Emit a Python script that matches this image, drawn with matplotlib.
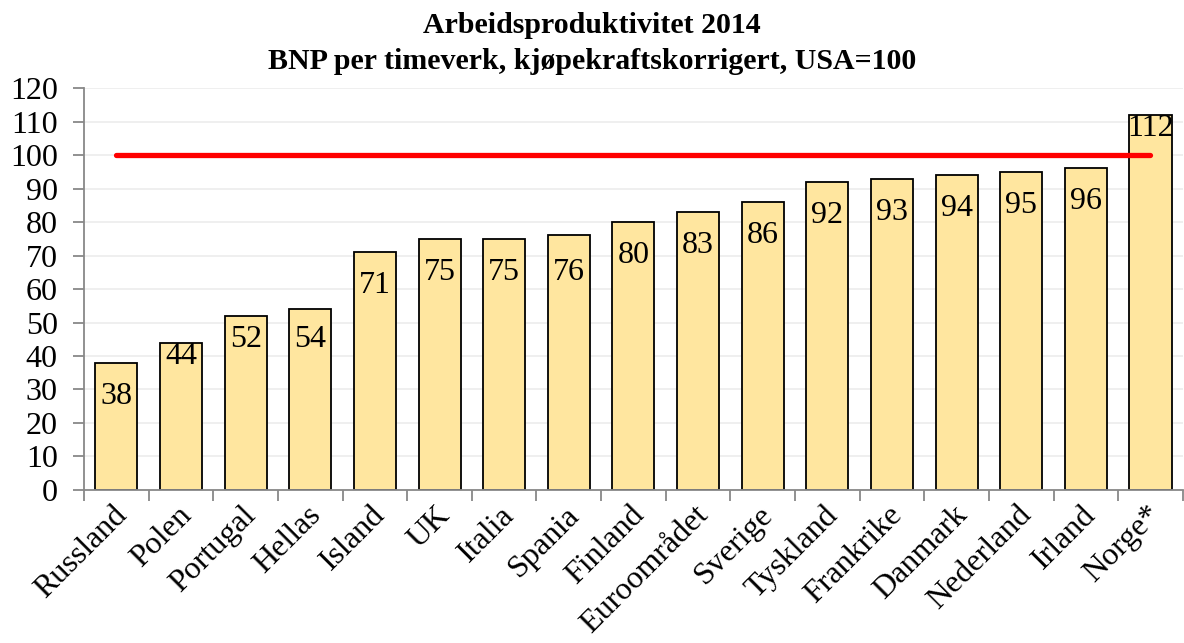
import numpy as np
import matplotlib.pyplot as plt
import matplotlib.transforms as mtransforms
from matplotlib.ticker import FixedLocator

land = ["Russland", "Polen", "Portugal", "Hellas", "Island", "UK", "Italia", "Spania",
        "Finland", "Euroområdet", "Sverige", "Tyskland", "Frankrike", "Danmark",
        "Nederland", "Irland", "Norge*"]
verdi = [38, 44, 52, 54, 71, 75, 75, 76, 80, 83, 86, 92, 93, 94, 95, 96, 112]
usa_niva = 100

# where the label sits below the bar top (in axis units)
label_gap = [10, 4, 7, 9, 10, 10, 10, 11, 10, 10, 10, 10, 10, 10, 10, 10, 4]

plt.rcParams['font.family'] = ['Liberation Serif', 'DejaVu Serif']

fig = plt.figure(figsize=(11.84, 6.43), dpi=100)
ax = fig.add_axes([0.071, 0.238, 0.928, 0.625])

x = np.arange(len(land))
ax.bar(x, verdi, width=0.65, color='#ffe69f', edgecolor='black', linewidth=1.3, zorder=2)
ax.plot([x[0], x[-1]], [usa_niva, usa_niva], color='#ff0000', linewidth=3.8,
        solid_capstyle='round', zorder=3)

for xi, v, g in zip(x, verdi, label_gap):
    ax.text(xi, v - g, str(v), ha='center', va='center', fontsize=23, zorder=4)

ax.set_xlim(-0.5, len(land) - 0.5)
ax.set_ylim(0, 120)
ax.set_yticks(range(0, 121, 10))
ax.grid(axis='y', color='#ececec', linewidth=1.2, zorder=0)

ax.set_xticks(x)
ax.set_xticklabels(land, rotation=45, ha='right', va='center', rotation_mode='anchor',
                   fontsize=23)
ax.tick_params(axis='x', which='major', length=0, pad=15)
ax.xaxis.set_minor_locator(FixedLocator(np.arange(-0.5, len(land), 1.0)))
ax.tick_params(axis='x', which='minor', length=8, width=1.3, color='#888888')
ax.tick_params(axis='y', length=8, width=1.3, color='#888888', labelsize=23, pad=11)
shift = mtransforms.ScaledTranslation(6 / 100, 0, fig.dpi_scale_trans)
for lab in ax.get_xticklabels():
    lab.set_transform(lab.get_transform() + shift)

for s in ['top', 'right']:
    ax.spines[s].set_visible(False)
for s in ['left', 'bottom']:
    ax.spines[s].set_color('#888888')
    ax.spines[s].set_linewidth(1.3)

fig.text(0.5, 0.949, "Arbeidsproduktivitet 2014", ha='center', va='baseline',
         fontsize=21.5, fontweight='bold')
fig.text(0.5, 0.893, "BNP per timeverk, kjøpekraftskorrigert, USA=100", ha='center',
         va='baseline', fontsize=21.5, fontweight='bold')

fig.savefig("out.png", dpi=100)
